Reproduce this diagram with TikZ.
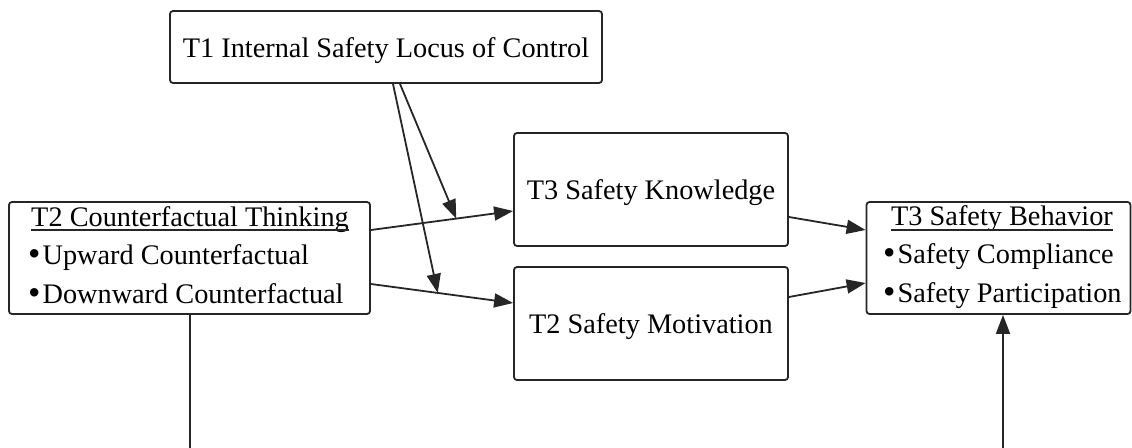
\documentclass[tikz,border=0pt]{standalone}
\usepackage{fontspec}
\setmainfont{Liberation Serif}
\usetikzlibrary{arrows.meta,calc}
\newcommand\bulletmark{\raisebox{-1pt}{\scalebox{1.25}{•}}\hspace{2pt}}
\begin{document}
\begin{tikzpicture}[x=1pt,y=-1pt,
  every node/.style={font=\fontsize{28.3}{34}\selectfont, text=black},
  box/.style={draw=black!85, line width=1.8pt, rounded corners=3pt, inner sep=0pt, fill=white, text height=20pt, text depth=0pt},
  lbl/.style={inner sep=0pt},
  conn/.style={draw=black!85, line width=1.8pt},
  arr/.style={conn, -{Triangle[length=19pt,width=14pt]}},
  uline/.style={draw=black!85, line width=1.4pt}
]
\useasboundingbox (0,0) rectangle (1132,447);
% boxes
\node[box, minimum width=432pt, minimum height=72pt] (t1) at (386,47) {T1 Internal Safety Locus of Control};
\node[box, minimum width=274pt, minimum height=113pt] (know) at (651,189.5) {T3 Safety Knowledge};
\node[box, minimum width=274pt, minimum height=113pt] (motiv) at (651,323.5) {T2 Safety Motivation};
\node[box, minimum width=361pt, minimum height=112pt] (cf) at (189.5,258) {};
\node[box, minimum width=264pt, minimum height=112pt] (beh) at (998.5,258) {};
% texts in list boxes
\node[lbl, anchor=base] (cftitle) at (190,226) {T2 Counterfactual Thinking};
\node[lbl, anchor=base west] (cfup) at (28,264) {\bulletmark Upward Counterfactual};
\node[lbl, anchor=base west] (cfdown) at (28,303) {\bulletmark Downward Counterfactual};
\node[lbl, anchor=base] (behtitle) at (1002,225) {T3 Safety Behavior};
\node[lbl, anchor=base west] (behcomp) at (883,263) {\bulletmark Safety Compliance};
\node[lbl, anchor=base west] (behpart) at (883,302) {\bulletmark Safety Participation};
\draw[uline] ([yshift=-4pt]cftitle.base west) -- ([yshift=-4pt]cftitle.base east);
\draw[uline] ([yshift=-5pt]behtitle.base west) -- ([yshift=-5pt]behtitle.base east);
% connectors
\draw[arr] ([yshift=28pt]cf.east) -- coordinate[pos=0.6] (m1) ([yshift=-21.5pt]know.west);
\draw[arr] ([yshift=-26pt]cf.east) -- coordinate[pos=0.47] (m2) ([yshift=20.5pt]motiv.west);
\draw[arr] ([xshift=14pt]t1.south) -- (m1);
\draw[arr] ([xshift=7pt]t1.south) -- (m2);
\draw[arr] ([yshift=-27.5pt]know.east) -- ([yshift=28pt]beh.west);
\draw[arr] ([yshift=26.5pt]motiv.east) -- ([yshift=-25pt]beh.west);
\coordinate (cfend) at (190,452);
\coordinate (behstart) at (1003,452);
\draw[conn] (cf.south -| cfend) -- (cfend);
\draw[arr] (behstart) -- (behstart |- beh.south);
\end{tikzpicture}
\end{document}
